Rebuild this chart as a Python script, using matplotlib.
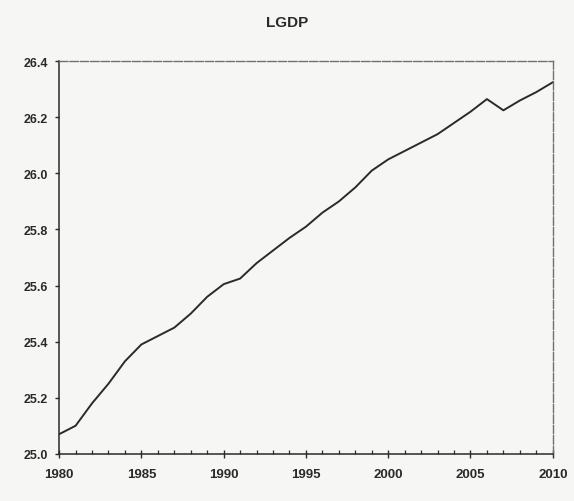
import matplotlib
matplotlib.use("Agg")
import matplotlib.pyplot as plt
from matplotlib.ticker import MultipleLocator, FixedLocator

plt.rcParams['font.family'] = ['Liberation Sans', 'DejaVu Sans']

# Annual log GDP series
years = list(range(1980, 2011))
lgdp = [25.07, 25.10, 25.18, 25.25, 25.33, 25.39, 25.42, 25.45, 25.50, 25.56,
        25.605, 25.625, 25.68, 25.725, 25.77, 25.81, 25.86, 25.90, 25.95, 26.01,
        26.05, 26.08, 26.11, 26.14, 26.18, 26.22, 26.265, 26.225, 26.26, 26.29,
        26.325]

title = "LGDP"
y_ticks = [25.0, 25.2, 25.4, 25.6, 25.8, 26.0, 26.2, 26.4]
x_ticks = [1980, 1985, 1990, 1995, 2000, 2005, 2010]

bg = '#f6f6f4'
ink = '#2a2a2a'

fig = plt.figure(figsize=(5.74, 5.02), dpi=100, facecolor=bg)
ax = fig.add_axes([0.103, 0.094, 0.860, 0.782], facecolor=bg)

ax.plot(years, lgdp, color=ink, linewidth=1.4)

ax.set_xlim(1980, 2010)
ax.set_ylim(25.0, 26.4)

ax.xaxis.set_major_locator(FixedLocator(x_ticks))
ax.xaxis.set_minor_locator(MultipleLocator(1))
ax.yaxis.set_major_locator(FixedLocator(y_ticks))
ax.set_xticklabels([str(x) for x in x_ticks], fontweight='bold')
ax.set_yticklabels([f"{y:.1f}" for y in y_ticks], fontweight='bold')

ax.tick_params(axis='x', which='major', direction='inout', length=6, width=1.0,
               color=ink, labelsize=9.5, labelcolor=ink, pad=7)
ax.tick_params(axis='x', which='minor', direction='in', length=3, width=0.9,
               color=ink)
ax.tick_params(axis='y', which='major', direction='out', length=3, width=1.0,
               color=ink, labelsize=9, labelcolor=ink, pad=5)

for side in ['left', 'bottom']:
    ax.spines[side].set_color(ink)
    ax.spines[side].set_linewidth(1.1)
for side in ['top', 'right']:
    ax.spines[side].set_color('#707070')
    ax.spines[side].set_linewidth(1.0)
    ax.spines[side].set_linestyle((0, (6, 1.5)))

fig.text(0.50, 0.955, title, ha='center', va='center', fontsize=11,
         fontweight='bold', color=ink)

fig.savefig("out.png", dpi=100, facecolor=bg)
